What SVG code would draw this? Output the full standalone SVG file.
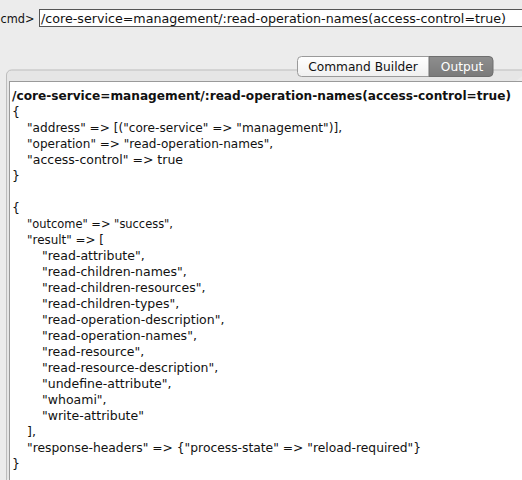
<svg xmlns="http://www.w3.org/2000/svg" width="522" height="480" viewBox="0 0 522 480">
<defs>
<linearGradient id="gWhite" x1="0" y1="0" x2="0" y2="1"><stop offset="0" stop-color="#ffffff"/><stop offset="1" stop-color="#f0f0f0"/></linearGradient>
<linearGradient id="gDark" x1="0" y1="0" x2="0" y2="1"><stop offset="0" stop-color="#8e8e8e"/><stop offset="1" stop-color="#7a7a7a"/></linearGradient>
</defs>
<style>
text{font-family:"DejaVu Sans","Liberation Sans",sans-serif;font-size:12.5px;fill:#111}
.b{font-weight:bold;font-size:12px}
.tab{font-size:12.2px}
</style>
<rect width="522" height="480" fill="#ececec"/>
<g id="cmd">
<text x="0.5" y="23" textLength="34" lengthAdjust="spacingAndGlyphs">cmd&gt;</text>
<rect x="39.5" y="9.5" width="490" height="17" fill="#ffffff" stroke="#555"/>
<text x="41" y="22.5" textLength="465" lengthAdjust="spacingAndGlyphs">/core-service=management/:read-operation-names(access-control=true)</text>
</g>
<g id="panel">
<path d="M6.5 480 V75 a5 5 0 0 1 5 -5 H530" fill="#e6e6e6" stroke="#bdbdbd"/>
<rect x="9.5" y="81.5" width="520" height="410" fill="#ffffff" stroke="#9a9a9a"/>
</g>
<g id="tabs">
<path d="M429 56.5 H301.5 a4 4 0 0 0 -4 4 V72.5 a4 4 0 0 0 4 4 H429" fill="url(#gWhite)" stroke="#9a9a9a"/>
<path d="M429 56.5 H489 a4 4 0 0 1 4 4 V72.5 a4 4 0 0 1 -4 4 H429 Z" fill="url(#gDark)" stroke="#6e6e6e"/>
<text class="tab" x="363" y="71" text-anchor="middle">Command Builder</text>
<text class="tab" x="462" y="71" text-anchor="middle" style="fill:#ffffff">Output</text>
</g>
<g id="output">
<text class="b" x="12" y="100" textLength="499" lengthAdjust="spacingAndGlyphs">/core-service=management/:read-operation-names(access-control=true)</text>
<text x="12" y="116">{</text>
<text x="27" y="132" textLength="315" lengthAdjust="spacingAndGlyphs">"address" =&gt; [("core-service" =&gt; "management")],</text>
<text x="27" y="148" textLength="246" lengthAdjust="spacingAndGlyphs">"operation" =&gt; "read-operation-names",</text>
<text x="27" y="164" textLength="156" lengthAdjust="spacingAndGlyphs">"access-control" =&gt; true</text>
<text x="12" y="180">}</text>
<text x="12" y="212">{</text>
<text x="27" y="228" textLength="146" lengthAdjust="spacingAndGlyphs">"outcome" =&gt; "success",</text>
<text x="27" y="244" textLength="77" lengthAdjust="spacingAndGlyphs">"result" =&gt; [</text>
<text x="42" y="260">"read-attribute",</text>
<text x="42" y="276">"read-children-names",</text>
<text x="42" y="292">"read-children-resources",</text>
<text x="42" y="308">"read-children-types",</text>
<text x="42" y="324">"read-operation-description",</text>
<text x="42" y="340">"read-operation-names",</text>
<text x="42" y="356">"read-resource",</text>
<text x="42" y="372">"read-resource-description",</text>
<text x="42" y="388">"undefine-attribute",</text>
<text x="42" y="404">"whoami",</text>
<text x="42" y="420">"write-attribute"</text>
<text x="27" y="436">],</text>
<text x="27" y="452" textLength="394" lengthAdjust="spacingAndGlyphs">"response-headers" =&gt; {"process-state" =&gt; "reload-required"}</text>
<text x="12" y="468">}</text>
</g>
</svg>
